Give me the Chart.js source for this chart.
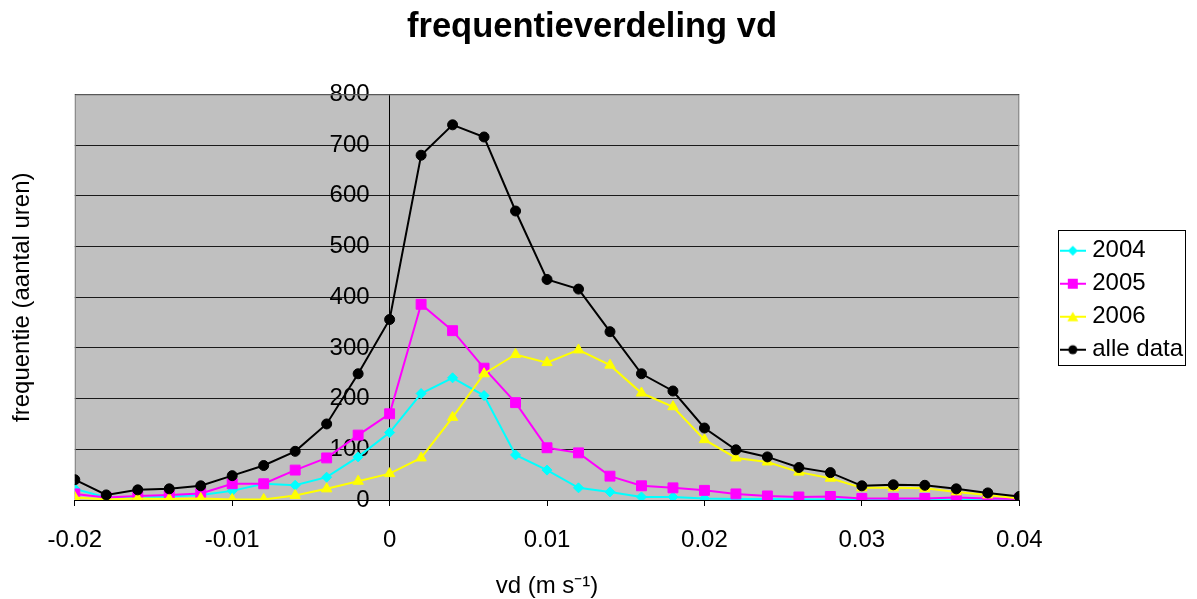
<!DOCTYPE html>
<html>
<head>
<meta charset="utf-8">
<script src="https://cdn.jsdelivr.net/npm/chart.js@4.4.1/dist/chart.umd.min.js"></script>
<style>
html, body { margin: 0; padding: 0; background: #fff; }
#wrap { width: 1197px; height: 599px; position: relative; }
</style>
</head>
<body>
<div id="wrap"><canvas id="c" width="1197" height="599"></canvas></div>
<script>
const chartTitle = 'frequentieverdeling vd';
const xAxisTitle = 'vd (m s\u207B\u00B9)';
const yAxisTitle = 'frequentie (aantal uren)';
const seriesNames = ['2004', '2005', '2006', 'alle data'];
const xValues = [-0.020, -0.018, -0.016, -0.014, -0.012, -0.010, -0.008, -0.006, -0.004, -0.002,
  0.000, 0.002, 0.004, 0.006, 0.008, 0.010, 0.012, 0.014, 0.016, 0.018, 0.020,
  0.022, 0.024, 0.026, 0.028, 0.030, 0.032, 0.034, 0.036, 0.038, 0.040];
const series2004 = [22, 5, 5, 7, 10, 18, 32, 29, 45, 85, 133, 210, 241, 206, 89, 59, 24, 16, 6, 6, 3, 2, 2, 1, 1, 1, 1, 1, 1, 1, 1];
const series2005 = [12, 5, 8, 10, 13, 32, 32, 59, 83, 128, 170, 386, 334, 260, 192, 103, 93, 47, 28, 24, 19, 12, 8, 6, 7, 3, 3, 3, 5, 3, 2];
const series2006 = [5, 1, 3, 2, 3, 1, 1, 9, 22, 37, 52, 83, 163, 249, 287, 271, 296, 266, 211, 184, 119, 83, 75, 55, 43, 24, 24, 23, 16, 10, 3];
const seriesAll = [40, 10, 20, 22, 28, 48, 68, 96, 150, 249, 356, 680, 740, 716, 570, 435, 416, 332, 249, 215, 142, 99, 85, 64, 54, 28, 30, 29, 22, 14, 7];
const xTickValues = [-0.02, -0.01, 0, 0.01, 0.02, 0.03, 0.04];
const xTickLabels = ['-0.02', '-0.01', '0', '0.01', '0.02', '0.03', '0.04'];
const yTickLabels = ['0', '100', '200', '300', '400', '500', '600', '700', '800'];

const FONT = '"Liberation Sans", Arial, sans-serif';
const colors = ['#00FFFF', '#FF00FF', '#FFFF00', '#000000'];
const styles = ['rectRot', 'rect', 'triangle', 'circle'];
const radii = [5, 7, 6, 5];
const allSeries = [series2004, series2005, series2006, seriesAll];

function legendIcon(i) {
  const cv = document.createElement('canvas');
  cv.width = 26; cv.height = 14;
  const g = cv.getContext('2d');
  g.strokeStyle = colors[i]; g.fillStyle = colors[i]; g.lineWidth = 2;
  g.beginPath(); g.moveTo(0, 7); g.lineTo(26, 7); g.stroke();
  const cx = 13, cy = 7;
  g.beginPath();
  if (styles[i] === 'rectRot') { g.moveTo(cx, cy - 5); g.lineTo(cx + 5, cy); g.lineTo(cx, cy + 5); g.lineTo(cx - 5, cy); g.closePath(); }
  else if (styles[i] === 'rect') { g.rect(cx - 5, cy - 5, 10, 10); }
  else if (styles[i] === 'triangle') { g.moveTo(cx, cy - 5); g.lineTo(cx + 5.5, cy + 4.5); g.lineTo(cx - 5.5, cy + 4.5); g.closePath(); }
  else { g.arc(cx, cy, 4.5, 0, Math.PI * 2); }
  g.fill();
  return cv;
}
const icons = [0, 1, 2, 3].map(legendIcon);

const datasets = allSeries.map((s, i) => ({
  label: seriesNames[i],
  data: xValues.map((x, j) => ({ x: x, y: s[j] })),
  borderColor: colors[i],
  backgroundColor: colors[i],
  pointBackgroundColor: colors[i],
  pointBorderColor: colors[i],
  pointStyle: styles[i],
  pointRadius: radii[i],
  pointBorderWidth: 1,
  borderWidth: 2,
  tension: 0,
  order: 4 - i
}));

const LEGEND_EXTRA_W = 28;
const LEGEND_SHIFT_X = 37;
const LEGEND_SHIFT_Y = 3;
const YLABEL_GAP = 20;

const plotBg = {
  id: 'plotBg',
  beforeUpdate(chart) {
    const lg = chart.legend;
    if (lg && !lg._fitPatched) {
      const of = lg.fit;
      lg.fit = function () { of.call(this); this.width += LEGEND_EXTRA_W; };
      lg._fitPatched = true;
    }
  },
  afterLayout(chart) {
    const lg = chart.legend;
    if (lg) {
      lg.left += LEGEND_SHIFT_X; lg.right += LEGEND_SHIFT_X;
      lg.top += LEGEND_SHIFT_Y; lg.bottom += LEGEND_SHIFT_Y;
    }
    const ys = chart.scales.y;
    if (ys && !ys._labelPatched) {
      const orig = ys.drawLabels;
      ys.drawLabels = function (ca) {
        const ctx = this.ctx;
        ctx.save();
        ctx.translate(-YLABEL_GAP, 0);
        orig.call(this, ca);
        ctx.restore();
      };
      ys._labelPatched = true;
    }
  },
  beforeDraw(chart) {
    const a = chart.chartArea, ctx = chart.ctx;
    ctx.save();
    ctx.fillStyle = '#C0C0C0';
    ctx.fillRect(a.left, a.top, a.right - a.left, a.bottom - a.top);
    ctx.restore();
  },
  beforeDatasetsDraw(chart) {
    const a = chart.chartArea, ctx = chart.ctx;
    ctx.save();
    ctx.strokeStyle = '#808080'; ctx.lineWidth = 1;
    ctx.beginPath();
    ctx.moveTo(a.left + 0.5, a.bottom); ctx.lineTo(a.left + 0.5, a.top + 0.5);
    ctx.lineTo(a.right - 0.5, a.top + 0.5); ctx.lineTo(a.right - 0.5, a.bottom);
    ctx.stroke();
    ctx.restore();
  },
  afterDraw(chart) {
    const lg = chart.legend;
    if (!lg || !lg.legendHitBoxes || !lg.legendHitBoxes.length) return;
    const hb = lg.legendHitBoxes;
    let l = Infinity, t = Infinity, r = -Infinity, b = -Infinity;
    hb.forEach(h => { l = Math.min(l, h.left); t = Math.min(t, h.top); r = Math.max(r, h.left + h.width); b = Math.max(b, h.top + h.height); });
    const ctx = chart.ctx;
    ctx.save();
    ctx.strokeStyle = '#000'; ctx.lineWidth = 1;
    ctx.strokeRect(Math.round(l - 7) + 0.5, Math.round(t - 9) + 0.5, Math.round(r - l + 9), Math.round(b - t + 12));
    ctx.restore();
  }
};

new Chart(document.getElementById('c'), {
  type: 'line',
  data: { datasets: datasets },
  plugins: [plotBg],
  options: {
    responsive: false,
    animation: false,
    devicePixelRatio: 1,
    font: { family: FONT },
    layout: { padding: { left: 0, right: 13, top: 0, bottom: 0 } },
    plugins: {
      tooltip: { enabled: false },
      title: {
        display: true, text: chartTitle, color: '#000',
        font: { family: FONT, size: 34.5, weight: 'bold' },
        padding: { top: 7, bottom: 46 }
      },
      legend: {
        display: true, position: 'right', align: 'center', fullSize: false,
        labels: {
          color: '#000', usePointStyle: true, pointStyleWidth: 15, padding: 9,
          font: { family: FONT, size: 24 },
          sort: (a, b) => a.datasetIndex - b.datasetIndex,
          generateLabels: (chart) => chart.data.datasets.map((d, i) => ({
            text: d.label, datasetIndex: i, pointStyle: icons[i], fillStyle: colors[i],
            strokeStyle: colors[i], lineWidth: 0, hidden: false, fontColor: '#000'
          }))
        }
      }
    },
    scales: {
      x: {
        type: 'linear', position: 'bottom', min: -0.02, max: 0.04,
        afterBuildTicks: (scale) => { scale.ticks = xTickValues.map(v => ({ value: v })); },
        ticks: {
          color: '#000', padding: 22, maxRotation: 0, autoSkip: false,
          font: { family: FONT, size: 24, lineHeight: 1 },
          callback: (v, i) => xTickLabels[i]
        },
        grid: { drawOnChartArea: false, drawTicks: true, tickLength: 6, color: '#000' },
        border: { display: true, color: '#000', width: 1 },
        title: {
          display: true, text: xAxisTitle, color: '#000',
          font: { family: FONT, size: 24, lineHeight: 1 },
          padding: { top: 0, bottom: 1 }
        }
      },
      y: {
        type: 'linear', position: { x: 0 }, min: 0, max: 800,
        afterBuildTicks: (scale) => { scale.ticks = yTickLabels.map(v => ({ value: Number(v) })); },
        ticks: {
          color: '#000', padding: 11, autoSkip: false,
          font: { family: FONT, size: 24 },
          callback: (v, i) => yTickLabels[i]
        },
        grid: { drawOnChartArea: true, drawTicks: true, tickLength: 7, color: '#1a1a1a' },
        border: { display: true, color: '#000', width: 1 }
      },
      yTitle: {
        type: 'linear', axis: 'y', position: 'left', display: true,
        ticks: { display: false },
        grid: { display: false, drawTicks: false },
        border: { display: false },
        title: {
          display: true, text: yAxisTitle, color: '#000',
          font: { family: FONT, size: 24 },
          padding: { top: 8, bottom: 38 }
        }
      }
    }
  }
});
</script>
</body>
</html>
